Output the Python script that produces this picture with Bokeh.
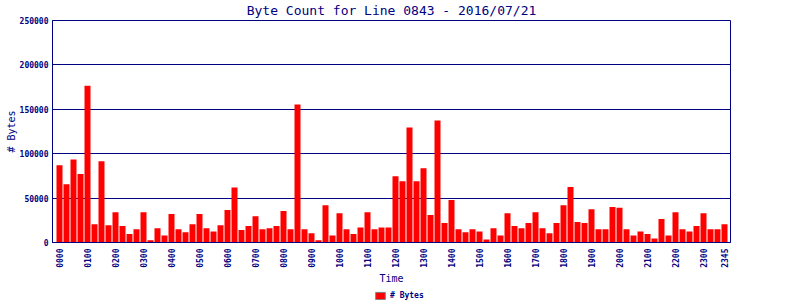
from math import pi

from bokeh.plotting import figure
from bokeh.layouts import column
from bokeh.models import (Range1d, FixedTicker, Legend, LegendItem,
                          ColumnDataSource, NumeralTickFormatter)
from bokeh.embed import file_html
from bokeh.resources import INLINE

# ---- data -------------------------------------------------------------
times = [f"{h:02d}{m:02d}" for h in range(24) for m in (0, 15, 30, 45)]

byte_counts = [
    87000, 65500, 93500, 77000, 176500, 20500, 91500, 19500,
    34000, 18500, 9500, 15000, 34000, 2500, 16000, 8000,
    32000, 15000, 11500, 20500, 32000, 16000, 12500, 19500,
    36500, 62000, 14000, 18500, 29500, 15000, 16000, 18500,
    35500, 15000, 155500, 15000, 10500, 2500, 42000, 8000,
    33000, 15000, 9500, 17000, 34000, 15000, 17000, 17000,
    74500, 69000, 129500, 69000, 83500, 31000, 137500, 22000,
    48000, 15000, 11500, 15000, 12500, 3500, 16000, 8000,
    33000, 18500, 16000, 22000, 34000, 16000, 10500, 22000,
    42000, 62500, 23000, 22000, 37500, 15000, 15000, 40000,
    39000, 15000, 8000, 12500, 9500, 4500, 26500, 8000,
    34000, 15000, 12500, 18500, 33000, 15000, 15000, 20500,
]

tick_labels = ["0000", "0100", "0200", "0300", "0400", "0500", "0600",
               "0700", "0800", "0900", "1000", "1100", "1200", "1300",
               "1400", "1500", "1600", "1700", "1800", "1900", "2000",
               "2100", "2200", "2300", "2345"]

y_ticks = [0, 50000, 100000, 150000, 200000, 250000]

title_text = "Byte Count for Line 0843 - 2016/07/21"
series_name = "# Bytes"

# ---- build ------------------------------------------------------------
NAVY = "#000080"
MONO = "DejaVu Sans Mono"

x_idx = list(range(len(times)))
x_ticks = [times.index(t) for t in tick_labels]
src = ColumnDataSource(dict(x=x_idx, time=times, bytes=byte_counts))

p = figure(width=800, height=286, output_backend="svg", toolbar_location=None,
           x_range=Range1d(-1, 95.857), y_range=Range1d(0, 250000),
           min_border_left=52, min_border_right=70,
           min_border_top=20, min_border_bottom=44,
           title=title_text)

p.background_fill_color = "white"
p.border_fill_color = "white"
p.outline_line_color = NAVY
p.outline_line_width = 1

p.title.text_font = MONO
p.title.text_font_size = "13px"
p.title.text_font_style = "normal"
p.title.text_color = NAVY
p.title.align = "center"
p.title.vertical_align = "top"
p.title.standoff = 1

for ax in (p.xaxis[0], p.yaxis[0]):
    ax.axis_line_color = NAVY
    ax.axis_line_width = 1
    ax.major_tick_line_color = None
    ax.minor_tick_line_color = None
    ax.major_tick_out = 0
    ax.major_tick_in = 0
    ax.minor_tick_out = 0
    ax.minor_tick_in = 0
    ax.major_label_text_font = MONO
    ax.major_label_text_font_size = "8px"
    ax.major_label_text_font_style = "bold"
    ax.major_label_text_color = NAVY
    ax.axis_label_text_font = MONO
    ax.axis_label_text_font_size = "10px"
    ax.axis_label_text_font_style = "normal"
    ax.axis_label_text_color = NAVY

xa = p.xaxis[0]
xa.ticker = FixedTicker(ticks=x_ticks)
xa.major_label_overrides = {t: lbl for t, lbl in zip(x_ticks, tick_labels)}
xa.major_label_orientation = pi / 2
xa.major_label_standoff = 6
xa.axis_label = "Time"
xa.axis_label_standoff = 2

ya = p.yaxis[0]
ya.ticker = FixedTicker(ticks=y_ticks)
ya.formatter = NumeralTickFormatter(format="0")
ya.major_label_standoff = 4
ya.axis_label = series_name
ya.axis_label_standoff = 0

p.xgrid.visible = False
p.ygrid.grid_line_color = NAVY
p.ygrid.grid_line_width = 1

p.vbar(x="x", top="bytes", width=6 / 7, source=src,
       fill_color="#FF0000", line_color=None)

# ---- legend strip under the chart -------------------------------------
lf = figure(width=800, height=14, output_backend="svg", toolbar_location=None,
            x_range=Range1d(0, 1), y_range=Range1d(0, 1),
            x_axis_type=None, y_axis_type=None,
            min_border_left=0, min_border_right=0,
            min_border_top=0, min_border_bottom=0)
lf.grid.visible = False
lf.outline_line_color = None
lf.background_fill_color = "white"
lf.border_fill_color = "white"

# style carrier for the legend swatch: a zero-size bar lying outside the view
swatch = lf.vbar(x=[0.5], top=[-5], bottom=[-5], width=0,
                 fill_color="#FF0000", line_color="#808080", line_width=1)

legend = Legend(items=[LegendItem(label=series_name, renderers=[swatch])],
                location=(322, 0), orientation="horizontal",
                glyph_width=12, glyph_height=9, label_height=9, label_width=0,
                label_standoff=4, padding=0, margin=0, spacing=0,
                border_line_color=None, background_fill_alpha=0,
                label_text_font=MONO, label_text_font_size="8px",
                label_text_font_style="bold", label_text_color=NAVY,
                label_text_baseline="middle")
lf.add_layout(legend)

layout = column(p, lf, spacing=0)

open("out.html", "w").write(file_html(layout, INLINE))
